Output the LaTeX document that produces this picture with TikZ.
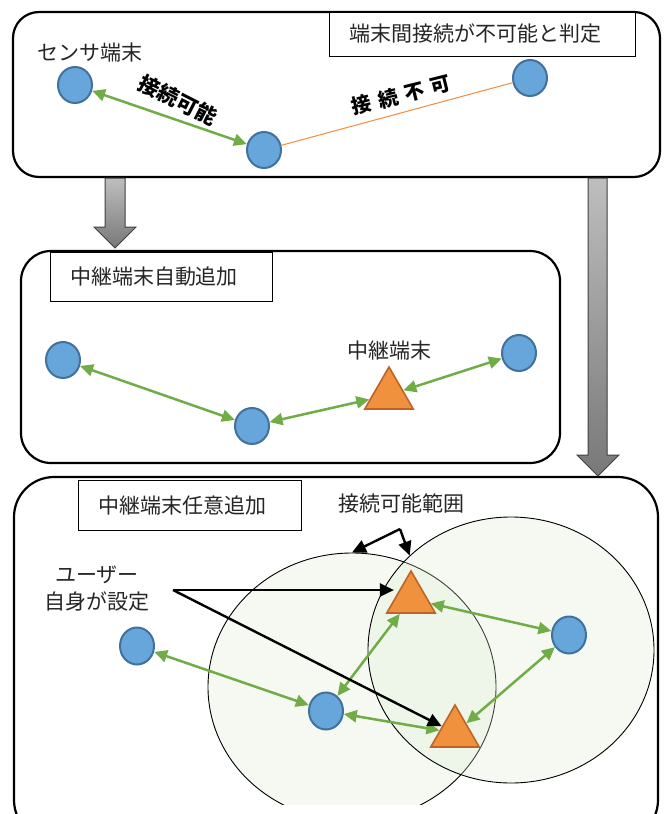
\documentclass[tikz,border=0pt]{standalone}
\usepackage{fontspec}
\newfontfamily\jp{Noto Sans CJK JP}
\usetikzlibrary{shapes.geometric,arrows.meta}
\definecolor{nodeblue}{RGB}{102,166,218}
\definecolor{nodeblueline}{RGB}{65,113,156}
\definecolor{relayor}{RGB}{240,145,62}
\definecolor{relayline}{RGB}{190,100,40}
\definecolor{linkgreen}{RGB}{112,173,71}
\definecolor{failor}{RGB}{244,140,60}
\definecolor{rangefill}{RGB}{220,236,210}
\definecolor{gtop}{RGB}{190,190,190}
\definecolor{gbot}{RGB}{120,120,120}
\begin{document}
\begin{tikzpicture}[x=1pt,y=-1pt,
  sensor/.style={ellipse,draw=nodeblueline,fill=nodeblue,line width=2pt,minimum width=34pt,minimum height=36pt,inner sep=0pt},
  relay/.style={regular polygon,regular polygon sides=3,draw=relayline,fill=relayor,line width=1.6pt,minimum size=56pt,inner sep=0pt},
  link/.style={draw=linkgreen,line width=2.5pt,{Triangle[length=13pt,width=12pt]}-{Triangle[length=13pt,width=12pt]}},
  pointer/.style={draw=black,line width=2.4pt,-{Triangle[length=14pt,width=13pt]}},
  frame/.style={draw=black,line width=2.2pt,fill=white},
  lbl/.style={font=\jp\fontsize{21}{27}\selectfont,text=black!85,inner sep=0pt},
  boldlbl/.style={font=\jp\bfseries\fontsize{21}{25}\selectfont,text=black,inner sep=0pt},
  titlebox/.style={draw=black,line width=1pt,fill=white,inner xsep=20pt,inner ysep=0pt,align=left,font=\jp\fontsize{21}{27}\selectfont,text=black!85},
  rangezone/.style={ellipse,draw=black,line width=0.9pt,fill=rangefill,fill opacity=0.28,inner sep=0pt},
  blockarrow/.style={draw=black!75,line width=1pt,top color=gtop,bottom color=gbot}
]
\useasboundingbox (0,0) rectangle (666,814);

% frames
\draw[frame,rounded corners=26pt] (13,12) rectangle (660,177);
\draw[frame,rounded corners=30pt] (21,251) rectangle (560,463);
\draw[frame,rounded corners=40pt] (14,477) rectangle (658,840);

% block arrows
\path[blockarrow] (105,178) -- (125,178) -- (125,227) -- (136,227) -- (115,248) -- (94,227) -- (105,227) -- cycle;
\path[blockarrow] (588,178) -- (607,178) -- (607,455) -- (619,455) -- (598,476) -- (577,455) -- (588,455) -- cycle;

% ---------- top panel ----------
\node[titlebox,minimum width=306pt,minimum height=44pt,text width=266pt] (t1) at (482,34) {端末間接続が不可能と判定};
\node[lbl] (sensorlbl) at (90,53) {センサ端末};
\node[sensor] (c1) at (75,85) {};
\node[sensor] (c2) at (264,150) {};
\node[sensor] (c3) at (530,78) {};
\draw[link] (c1) -- (c2);
\draw[draw=failor,line width=1pt] (c2) -- (c3);
\node[boldlbl,rotate=-27] (ok) at (178,100) {接続可能};
\node[boldlbl,rotate=14,font=\jp\bfseries\fontsize{20}{24}\selectfont] (ng) at (401,95) {接\hspace{7pt}続\hspace{7pt}不\hspace{7pt}可};

% ---------- middle panel ----------
\node[titlebox,minimum width=222pt,minimum height=49pt,text width=182pt] (t2) at (161,276.5) {中継端末自動追加};
\node[sensor] (m1) at (63,360) {};
\node[sensor] (m2) at (252,426) {};
\node[sensor] (m3) at (519,353) {};
\node[relay] (mt) at (389,395) {};
\node[lbl] (mtlbl) at (389,351) {中継端末};
\draw[link] (m1) -- (m2);
\draw[link] (m2) -- (mt);
\draw[link] (mt) -- (m3);

% ---------- bottom panel ----------
\begin{scope}
  \clip (0,0) rectangle (666,804);
  \node[rangezone,minimum width=288pt,minimum height=268pt] (rangeA) at (352,687) {};
  \node[rangezone,minimum width=286pt,minimum height=266pt] (rangeB) at (511,650) {};
\end{scope}
\node[titlebox,minimum width=223pt,minimum height=50pt,text width=183pt] (t3) at (189.5,505) {中継端末任意追加};
\node[lbl] (rangelbl) at (401,503) {接続可能範囲};
\node[lbl,align=center] (userlbl) at (97,589) {ユーザー\\自身が設定};

\node[sensor,minimum height=37pt] (bA) at (137,646) {};
\node[sensor,minimum height=37pt] (bB) at (326,711) {};
\node[sensor,minimum height=37pt] (bC) at (569,635) {};
\node[relay] (bT1) at (411,599) {};
\node[relay] (bT2) at (455,733) {};

\draw[link] (bA) -- (bB);
\draw[link] (bB) -- (bT1);
\draw[link] (bB) -- (bT2);
\draw[link] (bT1) -- (bC);
\draw[link] (bT2) -- (bC);

\coordinate (usr) at (173,590);
\draw[pointer] (usr) -- (bT1.west |- usr) ;
\draw[pointer] (usr) -- (bT2);
\coordinate (rng) at (400,529);
\draw[pointer] (rng) -- (rangeA.north);
\draw[pointer] (rng) -- (rangeB.137);
\end{tikzpicture}
\end{document}
